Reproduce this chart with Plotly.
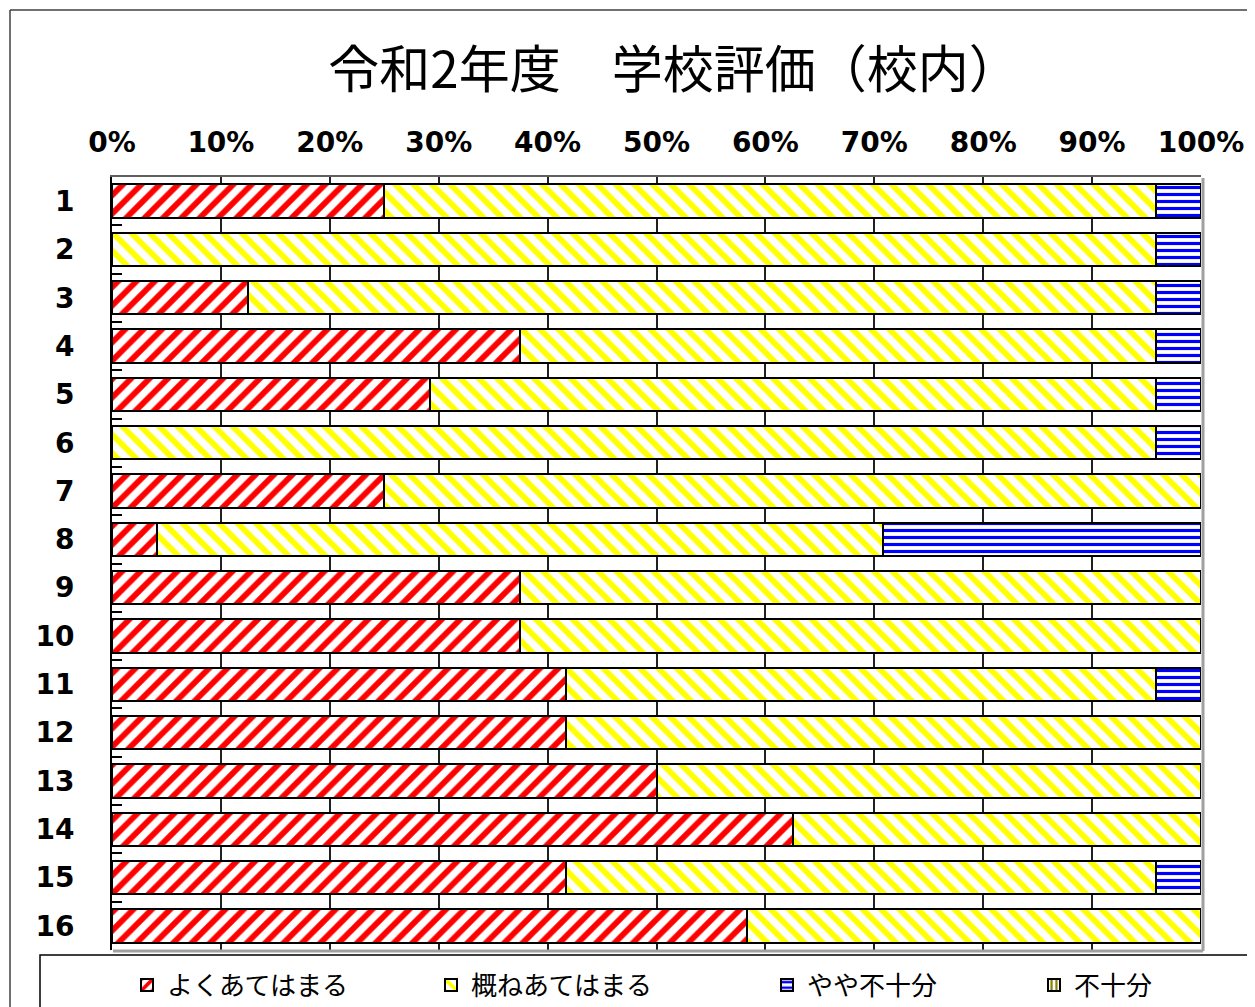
import plotly.graph_objects as go

# ---- data (respondent counts, shown as percent) ----
items = [str(i) for i in range(1, 17)]
yoku = [6, 0, 3, 9, 7, 0, 6, 1, 9, 9, 10, 10, 12, 15, 10, 14]            # よくあてはまる
gaine = [17, 23, 20, 14, 16, 23, 18, 16, 15, 15, 13, 14, 12, 9, 13, 10]  # 概ねあてはまる
yaya = [1, 1, 1, 1, 1, 1, 0, 7, 0, 0, 1, 0, 0, 0, 1, 0]                  # やや不十分
fujubun = [0] * 16                                                       # 不十分
x_ticks = list(range(0, 101, 10))

series = [
    # name, values, stripe colour, pattern, pattern size
    ("よくあてはまる", yoku, "#FF0000", "/", 13),
    ("概ねあてはまる", gaine, "#FFFF00", "\\", 13),
    ("やや不十分", yaya, "#0000FF", "-", 7),
    ("不十分", fujubun, "#808000", "|", 6),
]
legend_icon_x = [142, 446, 782, 1049]   # page-pixel left edge of each legend key

OFF = 8                      # page body margin
W, H = 1255 - OFF, 1007 - OFF
L, R, T, B = 112, 1201, 177, 950   # plot area in page pixels


def px_x(p):
    return (p - L) / (R - L)


def px_y(p):
    return (B - p) / (B - T)


fig = go.Figure()
legend_names = ["legend", "legend2", "legend3", "legend4"]
for (name, vals, col, shp, sz), lg in zip(series, legend_names):
    fig.add_trace(go.Bar(
        y=items, x=vals, name=name, orientation="h", legend=lg,
        marker=dict(
            color="white",
            line=dict(color="black", width=2),
            pattern=dict(shape=shp, fgcolor=col, bgcolor="white", fgopacity=1,
                         size=sz, solidity=0.45, fillmode="replace"),
        ),
    ))

shapes = [
    # outer chart frame (left and top edges visible)
    dict(type="line", xref="paper", yref="paper", x0=px_x(10), x1=px_x(1270),
         y0=px_y(10), y1=px_y(10), line=dict(color="#404040", width=1.5)),
    dict(type="line", xref="paper", yref="paper", x0=px_x(10), x1=px_x(10),
         y0=px_y(10), y1=px_y(1020), line=dict(color="#404040", width=1.5)),
    # legend box
    dict(type="rect", xref="paper", yref="paper", x0=px_x(40), x1=px_x(1280),
         y0=px_y(955), y1=px_y(1030), line=dict(color="black", width=1.5)),
    # plot area shadow (right, bottom)
    dict(type="line", xref="paper", yref="paper", x0=px_x(1203), x1=px_x(1203),
         y0=px_y(178), y1=px_y(951), line=dict(color="#A0A0A0", width=3)),
    dict(type="line", xref="paper", yref="paper", x0=px_x(113), x1=px_x(1203),
         y0=px_y(951), y1=px_y(951), line=dict(color="#A0A0A0", width=3)),
]

tickfont = dict(family="DejaVu Sans", size=28, color="black", weight="bold")

legend_layout = {}
for lg, ix in zip(legend_names, legend_icon_x):
    legend_layout[lg] = dict(
        orientation="h", x=px_x(ix - 15), xanchor="left",
        yref="container", y=1 - (985 - OFF) / H, yanchor="middle",
        font=dict(family="Noto Sans CJK JP", size=26, color="black"),
        bgcolor="rgba(0,0,0,0)", itemclick=False, itemdoubleclick=False)

fig.update_layout(
    width=W, height=H,
    margin=dict(l=L - OFF, r=W - (R - OFF), t=T - OFF, b=H - (B - OFF)),
    paper_bgcolor="white", plot_bgcolor="white",
    barmode="stack", barnorm="percent", bargap=0.31,
    showlegend=True,
    title=dict(text="令和2年度　学校評価（校内）", x=(674 - OFF) / W, xanchor="center",
               y=1 - (70 - OFF) / H, yanchor="middle",
               font=dict(family="Noto Sans CJK JP", size=51, color="black")),
    xaxis=dict(range=[0, 100], tickvals=x_ticks, ticktext=[f"{v}%" for v in x_ticks],
               side="top", showgrid=True, gridcolor="#202020", gridwidth=1.5,
               showline=True, linecolor="#606060", linewidth=2, mirror=False,
               ticks="", zeroline=False, ticklabelstandoff=12,
               tickfont=tickfont, fixedrange=True),
    yaxis=dict(categoryorder="array", categoryarray=items, autorange="reversed",
               showline=True, linecolor="black", linewidth=2,
               ticks="inside", tickson="boundaries", ticklen=10, tickcolor="black", tickwidth=1.5,
               ticklabelstandoff=30, showgrid=False,
               tickfont=tickfont, fixedrange=True),
    shapes=shapes,
    **legend_layout,
)

fig.write_html("out.html")
